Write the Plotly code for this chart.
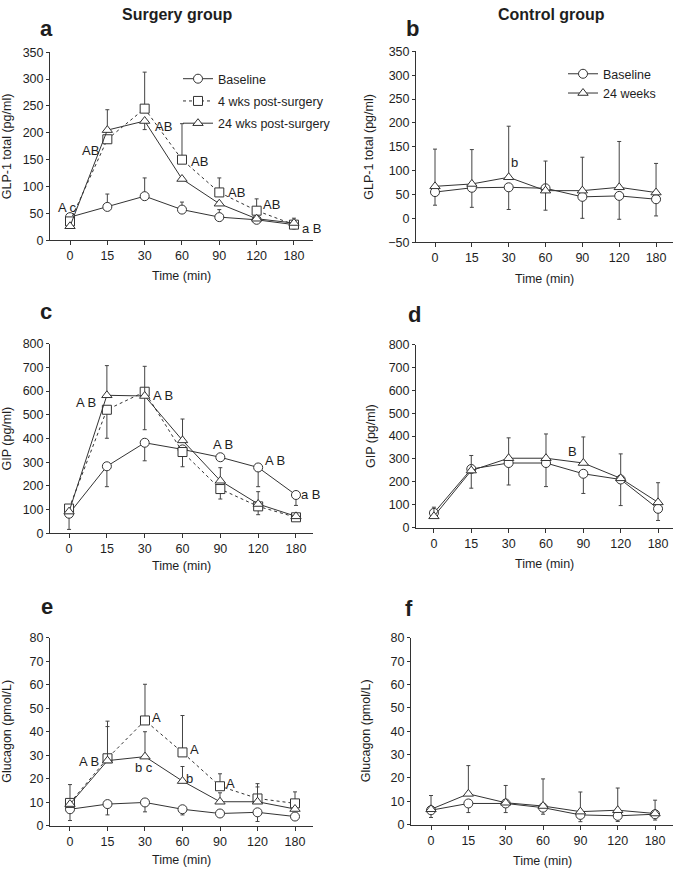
import plotly.graph_objects as go

W, H = 676, 876

times = ["0", "15", "30", "60", "90", "120", "180"]
xi = list(range(len(times)))

# Panel a: GLP-1 total, surgery group
a_base = [43, 62, 82, 57, 43, 38, 29]
a_base_up = [0, 24, 34, 14, 14, 0, 0]
a_4w = [35, 188, 245, 150, 89, 55, 29]
a_4w_up = [0, 0, 68, 67, 27, 22, 0]
a_24w = [26, 205, 222, 114, 68, 40, 32]
a_24w_up = [0, 38, 0, 0, 0, 0, 9]
a_24w_dn = [0, 0, 16, 0, 0, 0, 0]

# Panel b: GLP-1 total, control group
b_base = [55, 64, 65, 63, 45, 47, 40]
b_base_dn = [27.5, 41, 46.5, 46, 45, 49, 35]
b_24w = [67, 72, 86, 58, 58, 65, 54]
b_24w_up = [78, 72, 107, 62, 70, 96, 61]

# Panel c: GIP, surgery group
c_base = [83, 283, 382, 354, 321, 278, 162]
c_base_dn = [66, 86, 76, 0, 0, 81, 44]
c_4w = [105, 521, 597, 343, 187, 114, 68]
c_4w_dn = [0, 120, 160, 62, 42, 35, 0]
c_24w = [92, 582, 579, 392, 222, 124, 72]
c_24w_up = [0, 125, 125, 90, 55, 52, 0]

# Panel d: GIP, control group
d_base = [64, 256, 282, 282, 235, 210, 82]
d_base_dn = [15, 84, 96, 103, 86, 114, 51]
d_24w = [49, 249, 303, 303, 282, 215, 110]
d_24w_up = [40, 66, 89, 106, 114, 107, 86]

# Panel e: Glucagon, surgery group
e_base = [7.0, 9.2, 9.9, 7.0, 5.2, 5.7, 3.9]
e_base_dn = [4.8, 4.6, 4.0, 2.4, 0, 3.9, 0]
e_4w = [9.7, 28.7, 44.8, 31.2, 16.8, 11.6, 9.5]
e_4w_up = [7.8, 15.8, 15.4, 15.7, 5.3, 6.3, 4.9]
e_24w = [9.2, 27.7, 29.4, 19.0, 10.2, 10.2, 7.1]
e_24w_up = [0, 14.5, 10.6, 6.2, 3.8, 6.3, 0]

# Panel f: Glucagon, control group
f_base = [6.2, 9.1, 9.1, 7.3, 4.2, 3.8, 4.5]
f_base_dn = [3.1, 3.9, 3.9, 2.8, 2.9, 2.4, 2.5]
f_24w = [6.6, 13.2, 9.4, 8.0, 5.6, 6.2, 4.8]
f_24w_up = [5.9, 12.1, 7.4, 11.6, 8.4, 9.5, 5.7]

# significance letters: (text, x position in category units, y value)
a_letters = [("A c", -0.08, 60), ("AB", 0.54, 167), ("AB", 2.5, 212), ("AB", 3.47, 147),
             ("AB", 4.45, 89), ("AB", 5.39, 67), ("a B", 6.48, 22.5)]
b_letters = [("b", 2.15, 117)]
c_letters = [("A B", 0.45, 551), ("A B", 2.49, 582), ("A B", 4.08, 374),
             ("A B", 5.44, 306), ("a B", 6.4, 162)]
d_letters = [("B", 3.7, 332)]
e_letters = [("A B", 0.52, 27.3), ("A", 2.31, 46.2), ("b c", 1.97, 24.9),
             ("A", 3.31, 32.6), ("b", 3.18, 20.3), ("A", 4.28, 17.9)]

FONT = "Liberation Sans, Arial, sans-serif"
TXT = "#1e1e1e"
LINE = "#333333"
ERR = "#444444"

fig = go.Figure()


def zeros():
    return [0] * len(times)


def add(ax, y, up, dn, name, symbol, dash, legend=None, group=None):
    n = "" if ax == 1 else str(ax)
    fig.add_trace(go.Scatter(
        x=xi, y=y, mode="lines+markers", name=name,
        xaxis="x" + n, yaxis="y" + n,
        line=dict(color=LINE, width=1, dash=dash),
        marker=dict(symbol=symbol, size=9, color="white",
                    line=dict(color=LINE, width=1)),
        error_y=dict(type="data", symmetric=False, array=up, arrayminus=dn,
                     color=ERR, thickness=1, width=2),
        showlegend=legend is not None,
        legend=legend if legend else "legend",
        legendgroup=group,
        cliponaxis=False,
    ))


add(1, a_base, a_base_up, zeros(), "Baseline", "circle", "solid", "legend", "g1")
add(1, a_4w, a_4w_up, zeros(), "4 wks post-surgery", "square", "dot", "legend", "g2")
add(1, a_24w, a_24w_up, a_24w_dn, "24 wks post-surgery", "triangle-up", "solid", "legend", "g3")

add(2, b_base, zeros(), b_base_dn, "Baseline", "circle", "solid", "legend2")
add(2, b_24w, b_24w_up, zeros(), "24 weeks", "triangle-up", "solid", "legend2")

add(3, c_base, zeros(), c_base_dn, "Baseline", "circle", "solid")
add(3, c_4w, zeros(), c_4w_dn, "4 wks post-surgery", "square", "dot")
add(3, c_24w, c_24w_up, zeros(), "24 wks post-surgery", "triangle-up", "solid")

add(4, d_base, zeros(), d_base_dn, "Baseline", "circle", "solid")
add(4, d_24w, d_24w_up, zeros(), "24 weeks", "triangle-up", "solid")

add(5, e_base, zeros(), e_base_dn, "Baseline", "circle", "solid")
add(5, e_4w, e_4w_up, zeros(), "4 wks post-surgery", "square", "dot")
add(5, e_24w, e_24w_up, zeros(), "24 wks post-surgery", "triangle-up", "solid")

add(6, f_base, zeros(), f_base_dn, "Baseline", "circle", "solid")
add(6, f_24w, f_24w_up, zeros(), "24 weeks", "triangle-up", "solid")

# panel geometry in pixels: (x_left, x_right, y_top, y_bottom, xrange, yrange, dtick)
panels = {
    1: (50, 313, 46, 237, [-0.536, 6.51], [0, 350], 50),
    2: (416, 673, 45, 239, [-0.516, 6.46], [-50, 350], 50),
    3: (50, 313, 342, 535, [-0.504, 6.45], [0, 800], 100),
    4: (416, 673, 343, 529, [-0.48, 6.4], [0, 800], 100),
    5: (50, 313, 641, 832, [-0.533, 6.48], [0, 80], 10),
    6: (411, 673, 641, 831, [-0.536, 6.48], [0, 80], 10),
}

layout = dict(
    width=W, height=H, margin=dict(l=0, r=0, t=0, b=0),
    paper_bgcolor="white", plot_bgcolor="white",
    font=dict(family=FONT, size=12, color=TXT),
)
for k, (xl, xr, yt, yb, xr_, yr_, dt) in panels.items():
    n = "" if k == 1 else str(k)
    layout["xaxis" + n] = dict(
        domain=[xl / W, xr / W], range=xr_, anchor="y" + n,
        tickmode="array", tickvals=xi, ticktext=times,
        showline=True, linecolor=LINE, linewidth=1, ticks="outside",
        ticklen=4, tickcolor=LINE, showgrid=False, zeroline=False,
        tickfont=dict(size=12.5, color=TXT),
    )
    layout["yaxis" + n] = dict(
        domain=[(H - yb) / H, (H - yt) / H], range=yr_, anchor="x" + n,
        dtick=dt, tick0=0, showline=True, linecolor=LINE, linewidth=1,
        ticks="outside", ticklen=3, tickcolor=LINE, showgrid=False,
        zeroline=False, tickfont=dict(size=12.5, color=TXT),
    )

layout["legend"] = dict(x=178 / W, y=(H - 58) / H, xanchor="left", yanchor="top",
                        bgcolor="rgba(0,0,0,0)", font=dict(size=12.5, color=TXT),
                        itemwidth=30, tracegroupgap=3)
layout["legend2"] = dict(x=563 / W, y=(H - 53) / H, xanchor="left", yanchor="top",
                         bgcolor="rgba(0,0,0,0)", font=dict(size=12.5, color=TXT),
                         itemwidth=30)
fig.update_layout(**layout)

ann = []


def pa(text, px, py, size=12.5, bold=False, angle=0, xanchor="center", yanchor="middle"):
    ann.append(dict(text=("<b>%s</b>" % text) if bold else text, x=px / W, y=(H - py) / H,
                    xref="paper", yref="paper", showarrow=False, textangle=angle,
                    xanchor=xanchor, yanchor=yanchor,
                    font=dict(family=FONT, size=size, color=TXT)))


# group titles
pa("Surgery group", 177, 8, size=16, bold=True)
pa("Control group", 551, 8, size=16, bold=True)
# panel letters
for t, px, py in [("a", 47, 22), ("b", 412, 22), ("c", 46, 309), ("d", 414, 313),
                  ("e", 47, 609), ("f", 409, 611)]:
    pa(t, px, py, size=22, bold=True)
# x axis titles
for k, py in [(1, 273), (2, 276), (3, 568), (4, 566), (5, 867), (6, 868)]:
    xl, xr = panels[k][0], panels[k][1]
    pa("Time (min)", (xl + xr) / 2, py)
# y axis titles
for k, px, t in [(1, 7, "GLP-1 total (pg/ml)"), (2, 369, "GLP-1 total (pg/ml)"),
                 (3, 7, "GIP (pg/ml)"), (4, 371, "GIP (pg/ml)"),
                 (5, 7, "Glucagon (pmol/L)"), (6, 366, "Glucagon (pmol/L)")]:
    yt, yb = panels[k][2], panels[k][3]
    pa(t, px, (yt + yb) / 2, angle=-90)

for k, letters in [(1, a_letters), (2, b_letters), (3, c_letters), (4, d_letters), (5, e_letters)]:
    n = "" if k == 1 else str(k)
    for t, x, y in letters:
        ann.append(dict(text=t, x=x, y=y, xref="x" + n, yref="y" + n, showarrow=False,
                        font=dict(family=FONT, size=13, color=TXT)))

fig.update_layout(annotations=ann)
post = ("document.documentElement.style.margin='0';document.body.style.margin='0';"
        "document.documentElement.style.overflow='hidden';document.body.style.overflow='hidden';"
        "var gd=document.getElementById('{plot_id}');gd.style.position='fixed';"
        "gd.style.left='0px';gd.style.top='0px';")
fig.write_html("out.html", config={"displayModeBar": False}, post_script=post)
